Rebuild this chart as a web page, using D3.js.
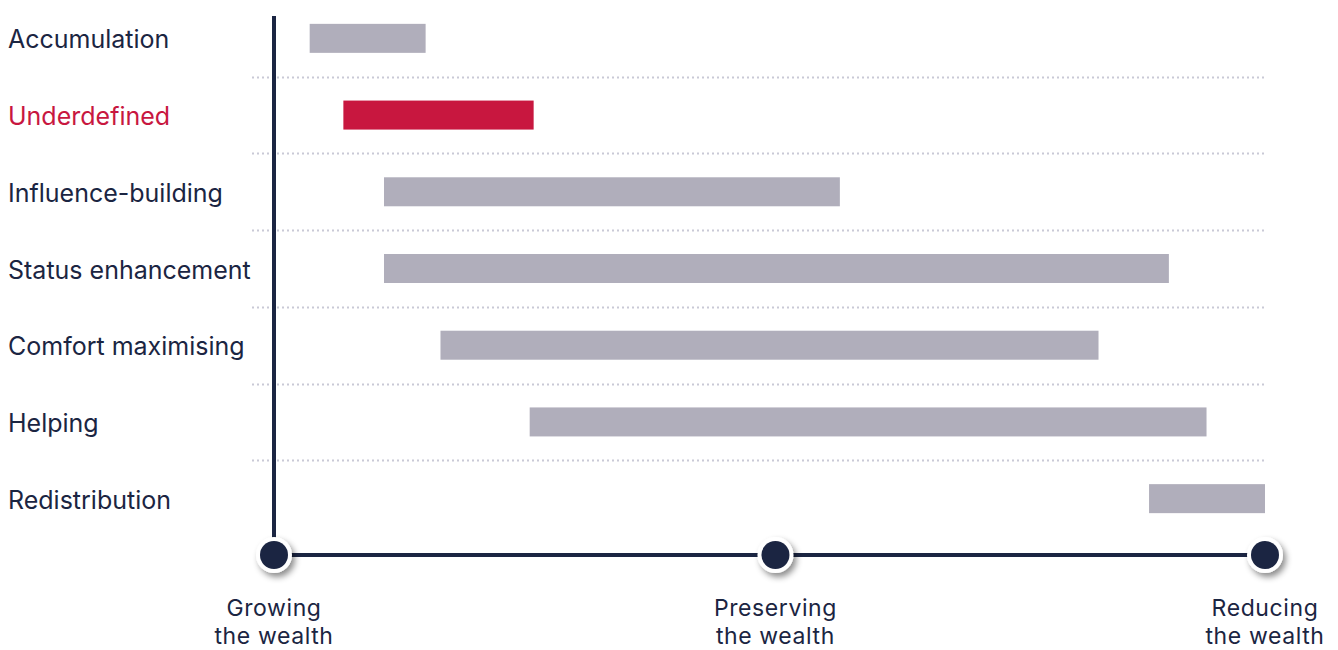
<!DOCTYPE html>
<html><head><meta charset="utf-8">
<script src="https://cdn.jsdelivr.net/npm/d3@7"></script>
<style>
html,body{margin:0;padding:0;background:#fff;}
svg{display:block;font-family:"Inter","Roboto","Liberation Sans",sans-serif;}
</style></head>
<body>
<svg id="chart" width="1338" height="650"></svg>
<script>
const categories = ["Accumulation","Underdefined","Influence-building","Status enhancement","Comfort maximising","Helping","Redistribution"];
const barStart = [3.6, 7.0, 11.1, 11.1, 16.8, 25.8, 88.3];
const barEnd   = [15.3, 26.2, 57.1, 90.3, 83.2, 94.1, 100];
const highlight = ["Underdefined"];
const tickValues = [0, 50.6, 100];
const tickLine1 = ["Growing","Preserving","Reducing"];
const tickLine2 = ["the wealth","the wealth","the wealth"];

const svg = d3.select("#chart");
const navy = "#1b2542", grey = "#b0aebb", red = "#c8173f";

const x = d3.scaleLinear().domain([0,100]).range([274,1265]);
const y = d3.scaleBand().domain(categories).range([0,537]).paddingInner(0).paddingOuter(0);
const barH = 29;

const defs = svg.append("defs");
const f = defs.append("filter").attr("id","shadow").attr("x","-50%").attr("y","-50%").attr("width","200%").attr("height","200%");
f.append("feDropShadow").attr("dx",3).attr("dy",4).attr("stdDeviation",3).attr("flood-color","#000").attr("flood-opacity",0.45);

// dotted separators
svg.append("g").selectAll("line").data(categories.slice(1)).join("line")
  .attr("x1",252).attr("x2",1265)
  .attr("y1",d=>Math.round(y(d))+0.5).attr("y2",d=>Math.round(y(d))+0.5)
  .attr("stroke","#c9c9d6").attr("stroke-width",2).attr("stroke-dasharray","2,3");

// bars
svg.append("g").selectAll("rect").data(categories).join("rect")
  .attr("x",(d,i)=>x(barStart[i]))
  .attr("width",(d,i)=>x(barEnd[i])-x(barStart[i]))
  .attr("y",d=>y(d)+y.bandwidth()/2-barH/2)
  .attr("height",barH)
  .attr("fill",d=>highlight.includes(d)?red:grey);

// category labels
svg.append("g").selectAll("text").data(categories).join("text")
  .attr("x",8).attr("y",d=>y(d)+y.bandwidth()/2+1)
  .attr("dy","0.36em")
  .attr("font-size",25)
  .attr("fill",d=>highlight.includes(d)?red:navy)
  .text(d=>d);

// axes lines
const axisY = 555;
svg.append("line").attr("x1",x(0)).attr("x2",x(0)).attr("y1",16).attr("y2",axisY)
  .attr("stroke",navy).attr("stroke-width",4);
svg.append("line").attr("x1",x(0)).attr("x2",x(100)).attr("y1",axisY).attr("y2",axisY)
  .attr("stroke",navy).attr("stroke-width",4);

// tick circles
const ticks = svg.append("g").selectAll("g").data(tickValues).join("g")
  .attr("transform",d=>`translate(${x(d)},${axisY})`);
ticks.append("circle").attr("r",18).attr("fill","#fff").attr("filter","url(#shadow)");
ticks.append("circle").attr("r",14).attr("fill",navy);

// tick labels (two lines)
const lab = svg.append("g").attr("text-anchor","middle").attr("font-size",23)
  .attr("letter-spacing",0.6).attr("fill",navy);
lab.selectAll("text.l1").data(tickValues).join("text").attr("class","l1")
  .attr("x",d=>x(d)).attr("y",616).text((d,i)=>tickLine1[i]);
lab.selectAll("text.l2").data(tickValues).join("text").attr("class","l2")
  .attr("x",d=>x(d)).attr("y",644).text((d,i)=>tickLine2[i]);
</script>
</body></html>
